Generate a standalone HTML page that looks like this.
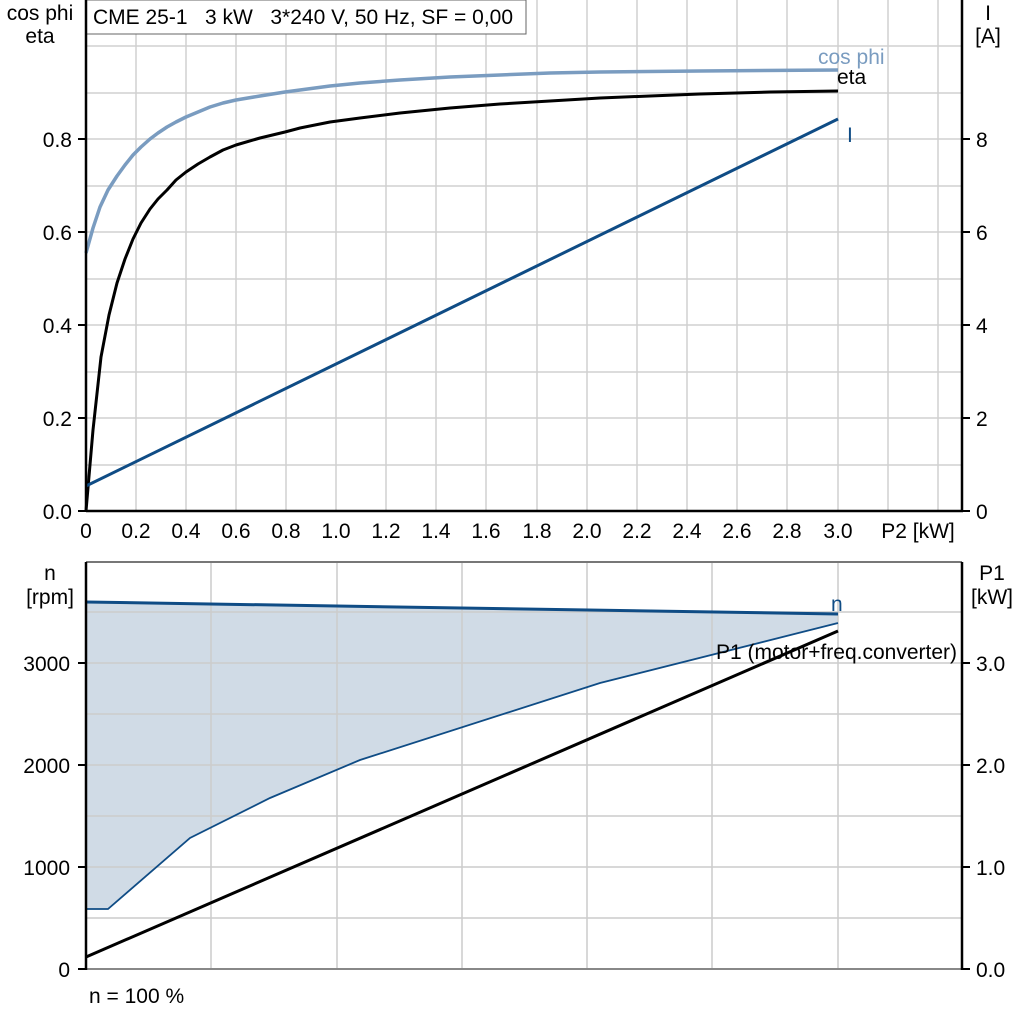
<!DOCTYPE html>
<html><head><meta charset="utf-8"><style>
body{margin:0;background:#fff;}
svg{display:block;}
text{font-family:"Liberation Sans",Arial,sans-serif;font-size:21px;white-space:pre;}
</style></head><body>
<svg width="1024" height="1024" viewBox="0 0 1024 1024" font-family="Liberation Sans, Arial, sans-serif" font-size="21">
<g stroke="#d0d0d0" stroke-width="1.5">
<line x1="136" y1="0" x2="136" y2="511"/><line x1="186" y1="0" x2="186" y2="511"/><line x1="236" y1="0" x2="236" y2="511"/><line x1="286" y1="0" x2="286" y2="511"/><line x1="336" y1="0" x2="336" y2="511"/><line x1="386" y1="0" x2="386" y2="511"/><line x1="436" y1="0" x2="436" y2="511"/><line x1="486" y1="0" x2="486" y2="511"/><line x1="537" y1="0" x2="537" y2="511"/><line x1="587" y1="0" x2="587" y2="511"/><line x1="637" y1="0" x2="637" y2="511"/><line x1="687" y1="0" x2="687" y2="511"/><line x1="737" y1="0" x2="737" y2="511"/><line x1="787" y1="0" x2="787" y2="511"/><line x1="838" y1="0" x2="838" y2="511"/><line x1="888" y1="0" x2="888" y2="511"/><line x1="938" y1="0" x2="938" y2="511"/>
<line x1="86" y1="46" x2="962" y2="46"/><line x1="86" y1="93" x2="962" y2="93"/><line x1="86" y1="139" x2="962" y2="139"/><line x1="86" y1="186" x2="962" y2="186"/><line x1="86" y1="232" x2="962" y2="232"/><line x1="86" y1="279" x2="962" y2="279"/><line x1="86" y1="325" x2="962" y2="325"/><line x1="86" y1="372" x2="962" y2="372"/><line x1="86" y1="418" x2="962" y2="418"/><line x1="86" y1="465" x2="962" y2="465"/>
</g>
<rect x="86" y="0" width="440" height="34" fill="#fff" stroke="#666" stroke-width="1"/>
<text x="93" y="24" xml:space="preserve">CME 25-1   3 kW   3*240 V, 50 Hz, SF = 0,00</text>
<polyline fill="none" stroke="#7a9cc0" stroke-width="3.5" stroke-linejoin="round" points="86,253 93,228 100,207 108,190 117,176 125,165 133,155 141,147 150,139 158,133 167,127 176,122 186,117 198,112 210,107 223,103 236,100 260,96 285,92 300,90 330,86 360,83 400,80 450,77 500,75 550,73 600,72 700,71 838,70"/>
<polyline fill="none" stroke="#000" stroke-width="3" stroke-linejoin="round" points="86,511 93,430 101,357 109,315 117,283 125,259 133,239 141,223 150,209 158,199 167,190 176,180 186,172 198,164 210,157 223,150 236,145 260,138 285,132 300,128 330,122 360,118 400,113 450,108 500,104 550,101 600,98 650,96 700,94 770,92 838,91"/>
<line x1="86" y1="486" x2="838" y2="119" stroke="#0f4c85" stroke-width="3"/>
<text x="818" y="64" fill="#7a9cc0">cos phi</text>
<text x="837" y="84">eta</text>
<text x="847" y="142" fill="#0f4c85">I</text>
<g stroke="#000" stroke-width="2.5"><line x1="86" y1="0" x2="86" y2="512"/><line x1="86" y1="511" x2="963" y2="511"/><line x1="962" y1="0" x2="962" y2="512"/></g>
<g stroke="#000" stroke-width="2">
<line x1="78" y1="511" x2="86" y2="511"/><line x1="78" y1="418" x2="86" y2="418"/><line x1="78" y1="325" x2="86" y2="325"/><line x1="78" y1="232" x2="86" y2="232"/><line x1="78" y1="139" x2="86" y2="139"/>
<line x1="962" y1="511" x2="970" y2="511"/><line x1="962" y1="418" x2="970" y2="418"/><line x1="962" y1="325" x2="970" y2="325"/><line x1="962" y1="232" x2="970" y2="232"/><line x1="962" y1="139" x2="970" y2="139"/>
</g>
<g text-anchor="end"><text x="72" y="519">0.0</text><text x="72" y="426">0.2</text><text x="72" y="333">0.4</text><text x="72" y="240">0.6</text><text x="72" y="147">0.8</text></g>
<g><text x="976" y="519">0</text><text x="976" y="426">2</text><text x="976" y="333">4</text><text x="976" y="240">6</text><text x="976" y="147">8</text></g>
<text x="40" y="20" text-anchor="middle">cos phi</text><text x="40" y="43" text-anchor="middle">eta</text>
<text x="988" y="20" text-anchor="middle">I</text><text x="988" y="43" text-anchor="middle">[A]</text>
<g text-anchor="middle"><text x="86" y="538">0</text><text x="136" y="538">0.2</text><text x="186" y="538">0.4</text><text x="236" y="538">0.6</text><text x="286" y="538">0.8</text><text x="336" y="538">1.0</text><text x="386" y="538">1.2</text><text x="436" y="538">1.4</text><text x="486" y="538">1.6</text><text x="537" y="538">1.8</text><text x="587" y="538">2.0</text><text x="637" y="538">2.2</text><text x="687" y="538">2.4</text><text x="737" y="538">2.6</text><text x="787" y="538">2.8</text><text x="838" y="538">3.0</text><text x="918" y="538">P2 [kW]</text></g>

<polygon fill="#d0dbe6" points="86,602 838,614 838,623 600,683 360,760 270,798 190,838 108,909 86,909"/>
<g stroke="#cccccc" stroke-width="1.5">
<line x1="211" y1="562" x2="211" y2="969"/><line x1="337" y1="562" x2="337" y2="969"/><line x1="462" y1="562" x2="462" y2="969"/><line x1="587" y1="562" x2="587" y2="969"/><line x1="712" y1="562" x2="712" y2="969"/><line x1="838" y1="562" x2="838" y2="969"/>
<line x1="86" y1="612" x2="962" y2="612"/><line x1="86" y1="663" x2="962" y2="663"/><line x1="86" y1="714" x2="962" y2="714"/><line x1="86" y1="765" x2="962" y2="765"/><line x1="86" y1="816" x2="962" y2="816"/><line x1="86" y1="867" x2="962" y2="867"/><line x1="86" y1="918" x2="962" y2="918"/>
</g>
<line x1="86" y1="562" x2="962" y2="562" stroke="#777" stroke-width="2"/>
<line x1="86" y1="969" x2="962" y2="969" stroke="#888" stroke-width="2"/>
<polyline fill="none" stroke="#0f4c85" stroke-width="1.8" points="86,909 108,909 190,838 270,798 360,760 600,683 838,623"/>
<line x1="86" y1="602" x2="838" y2="614" stroke="#0f4c85" stroke-width="3"/>
<line x1="86" y1="957" x2="838" y2="631" stroke="#000" stroke-width="3"/>
<text x="831" y="611" fill="#0f4c85">n</text>
<text x="716" y="659">P1 (motor+freq.converter)</text>
<g stroke="#000" stroke-width="2.5"><line x1="86" y1="562" x2="86" y2="970"/><line x1="962" y1="562" x2="962" y2="970"/></g>
<g stroke="#000" stroke-width="2">
<line x1="78" y1="969" x2="86" y2="969"/><line x1="78" y1="867" x2="86" y2="867"/><line x1="78" y1="765" x2="86" y2="765"/><line x1="78" y1="663" x2="86" y2="663"/>
<line x1="962" y1="969" x2="970" y2="969"/><line x1="962" y1="867" x2="970" y2="867"/><line x1="962" y1="765" x2="970" y2="765"/><line x1="962" y1="663" x2="970" y2="663"/>
</g>
<g text-anchor="end"><text x="70" y="977">0</text><text x="70" y="875">1000</text><text x="70" y="773">2000</text><text x="70" y="671">3000</text></g>
<g><text x="976" y="977">0.0</text><text x="976" y="875">1.0</text><text x="976" y="773">2.0</text><text x="976" y="671">3.0</text></g>
<text x="50" y="580" text-anchor="middle">n</text><text x="50" y="604" text-anchor="middle">[rpm]</text>
<text x="992" y="580" text-anchor="middle">P1</text><text x="992" y="604" text-anchor="middle">[kW]</text>
<text x="89" y="1003">n = 100 %</text>
</svg>
</body></html>
